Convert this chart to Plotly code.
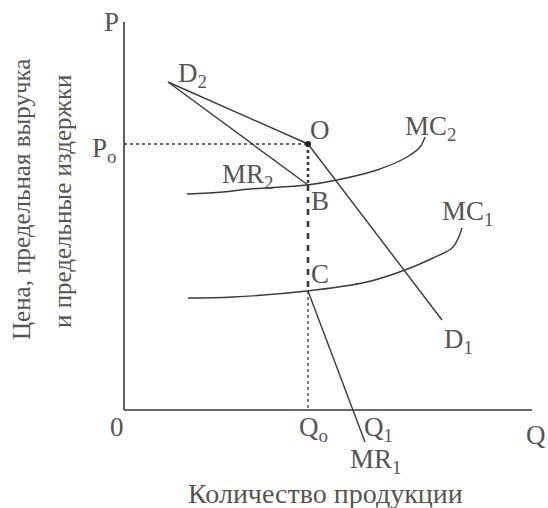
import plotly.graph_objects as go

# ---- data (Q = quantity units, P = price units) ----
axis_q_max = 102.0
axis_p_max = 97.0

d2_q = [11.0, 46.0]
d2_p = [82.0, 66.5]
d1_q = [46.0, 79.5]
d1_p = [66.5, 22.5]
mr2_q = [11.0, 46.0]
mr2_p = [82.0, 56.25]
mr1_q = [46.0, 60.25]
mr1_p = [29.75, -8.0]

mc2_q = [15.75, 24.75, 31.5, 45.75, 53.25, 63.25, 70.75, 74.0, 75.25]
mc2_p = [54.0, 54.5, 55.25, 56.25, 57.5, 60.0, 63.25, 65.75, 68.25]
mc1_q = [16.0, 27.25, 45.75, 60.75, 70.25, 77.25, 82.25, 84.5]
mc1_p = [28.0, 28.25, 29.75, 32.0, 35.0, 38.0, 40.75, 45.5]

q0 = 46.0
p0 = 66.5
p_b = 56.25
p_c = 29.75

labels = ["P", "P<sub>o</sub>", "D<sub>2</sub>", "O", "MC<sub>2</sub>", "MR<sub>2</sub>", "B",
          "MC<sub>1</sub>", "C", "D<sub>1</sub>", "0", "Q<sub>o</sub>", "Q<sub>1</sub>", "Q",
          "MR<sub>1</sub>"]
label_q = [-3.25, -5.0, 17.0, 49.0, 76.5, 30.75, 49.0, 85.75, 49.0, 83.5, -1.75, 47.25, 63.5, 103.0, 62.75]
label_p = [97.0, 65.0, 83.75, 70.0, 70.5, 58.5, 52.25, 49.25, 34.0, 17.25, -4.25, -4.75, -4.75, -6.25, -12.75]

x_title = "Количество продукции"
y_title_1 = "Цена, предельная выручка"
y_title_2 = "и предельные издержки"

LINE = "#3a3a3a"
TEXT = "#555555"
FONT = "Liberation Serif"

fig = go.Figure()

def add_line(xs, ys, width=1.4, dash="solid", shape="linear", color=LINE):
    fig.add_trace(go.Scatter(x=xs, y=ys, mode="lines",
                             line=dict(color=color, width=width, dash=dash, shape=shape),
                             hoverinfo="skip", showlegend=False))

# axes
add_line([0, 0], [0, axis_p_max], width=1.6)
add_line([0, axis_q_max], [0, 0], width=1.6)

# curves
add_line(d2_q, d2_p)
add_line(d1_q, d1_p)
add_line(mr2_q, mr2_p)
add_line(mr1_q, mr1_p)
add_line(mc2_q, mc2_p, shape="spline")
add_line(mc1_q, mc1_p, shape="spline")

# guide lines
add_line([0, q0], [p0, p0], width=1.3, dash="dot")
add_line([q0, q0], [p0, p_b], width=2.6, dash="dot")
add_line([q0, q0], [p_b, p_c], width=2.6, dash="6px,6px")
add_line([q0, q0], [p_c, 0], width=1.3, dash="dot")

# point O
fig.add_trace(go.Scatter(x=[q0], y=[p0], mode="markers",
                         marker=dict(color="#222222", size=6),
                         hoverinfo="skip", showlegend=False))

for t, xq, yp in zip(labels, label_q, label_p):
    fig.add_annotation(x=xq, y=yp, text=t, showarrow=False,
                       font=dict(family=FONT, size=27, color=TEXT))

fig.add_annotation(x=50.25, y=-20.75, text=x_title, showarrow=False,
                   font=dict(family=FONT, size=28, color=TEXT))
fig.add_annotation(x=-25.75, y=52.5, text=y_title_1, showarrow=False, textangle=-90,
                   font=dict(family=FONT, size=25, color=TEXT))
fig.add_annotation(x=-15.5, y=52.0, text=y_title_2, showarrow=False, textangle=-90,
                   font=dict(family=FONT, size=25, color=TEXT))

fig.update_layout(
    width=548, height=508,
    margin=dict(l=0, r=0, t=0, b=0),
    paper_bgcolor="white", plot_bgcolor="white",
    xaxis=dict(range=[-31, 106], visible=False, fixedrange=True),
    yaxis=dict(range=[-24.5, 102.5], visible=False, fixedrange=True),
    showlegend=False,
)

fig.write_html("out.html",
               config={"displayModeBar": False, "staticPlot": True},
               post_script="document.body.style.margin='0';document.body.style.overflow='hidden';")
